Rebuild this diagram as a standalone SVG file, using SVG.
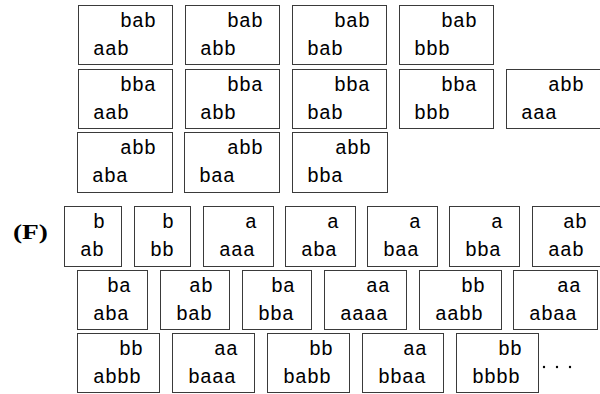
<svg xmlns="http://www.w3.org/2000/svg" width="600" height="394" viewBox="0 0 600 394">
<style>
rect{fill:#fff;stroke:#3a3a3a;stroke-width:1}
text{font-family:"Liberation Mono","DejaVu Sans Mono",monospace;font-size:20px;fill:#000}
.t{text-anchor:end}
.lbl{font-family:"Liberation Serif","DejaVu Serif",serif;font-weight:bold;font-size:20px}
</style>
<rect x="0" y="0" width="600" height="394" style="fill:#fff;stroke:none"/>
<g id="a1"><rect x="78.5" y="5.5" width="94" height="59"/><text class="t" x="156" y="27">bab</text><text x="93" y="55">aab</text></g>
<g id="a2"><rect x="185.5" y="5.5" width="94" height="59"/><text class="t" x="263" y="27">bab</text><text x="200" y="55">abb</text></g>
<g id="a3"><rect x="292.5" y="5.5" width="94" height="59"/><text class="t" x="370" y="27">bab</text><text x="307" y="55">bab</text></g>
<g id="a4"><rect x="399.5" y="5.5" width="94" height="59"/><text class="t" x="477" y="27">bab</text><text x="414" y="55">bbb</text></g>
<g id="b1"><rect x="78.5" y="69.5" width="94" height="59"/><text class="t" x="156" y="91">bba</text><text x="93" y="119">aab</text></g>
<g id="b2"><rect x="185.5" y="69.5" width="94" height="59"/><text class="t" x="263" y="91">bba</text><text x="200" y="119">abb</text></g>
<g id="b3"><rect x="292.5" y="69.5" width="94" height="59"/><text class="t" x="370" y="91">bba</text><text x="307" y="119">bab</text></g>
<g id="b4"><rect x="399.5" y="69.5" width="94" height="59"/><text class="t" x="477" y="91">bba</text><text x="414" y="119">bbb</text></g>
<g id="b5"><rect x="506.5" y="69.5" width="94" height="59"/><text class="t" x="584" y="91">abb</text><text x="521" y="119">aaa</text></g>
<g id="c1"><rect x="77.5" y="132.5" width="95" height="60"/><text class="t" x="156" y="154">abb</text><text x="92" y="182">aba</text></g>
<g id="c2"><rect x="184.5" y="132.5" width="95" height="60"/><text class="t" x="263" y="154">abb</text><text x="199" y="182">baa</text></g>
<g id="c3"><rect x="292.5" y="132.5" width="95" height="60"/><text class="t" x="371" y="154">abb</text><text x="307" y="182">bba</text></g>
<g id="label"><text class="lbl" x="13" y="239" textLength="35" lengthAdjust="spacingAndGlyphs">(F)</text></g>
<g id="f1"><rect x="64.5" y="206.5" width="57" height="60"/><text class="t" x="105" y="228">b</text><text x="80" y="256">ab</text></g>
<g id="f2"><rect x="134.5" y="206.5" width="56" height="60"/><text class="t" x="174" y="228">b</text><text x="150" y="256">bb</text></g>
<g id="f3"><rect x="203.5" y="206.5" width="70" height="60"/><text class="t" x="257" y="228">a</text><text x="219" y="256">aaa</text></g>
<g id="f4"><rect x="285.5" y="206.5" width="70" height="60"/><text class="t" x="339" y="228">a</text><text x="301" y="256">aba</text></g>
<g id="f5"><rect x="367.5" y="206.5" width="70" height="60"/><text class="t" x="421" y="228">a</text><text x="383" y="256">baa</text></g>
<g id="f6"><rect x="449.5" y="206.5" width="70" height="60"/><text class="t" x="503" y="228">a</text><text x="465" y="256">bba</text></g>
<g id="f7"><rect x="532.5" y="206.5" width="71" height="60"/><text class="t" x="587" y="228">ab</text><text x="548" y="256">aab</text></g>
<g id="g1"><rect x="77.5" y="270.5" width="70" height="59"/><text class="t" x="131" y="292">ba</text><text x="93" y="320">aba</text></g>
<g id="g2"><rect x="160.5" y="270.5" width="69" height="59"/><text class="t" x="213" y="292">ab</text><text x="176" y="320">bab</text></g>
<g id="g3"><rect x="242.5" y="270.5" width="69" height="59"/><text class="t" x="295" y="292">ba</text><text x="258" y="320">bba</text></g>
<g id="g4"><rect x="324.5" y="270.5" width="82" height="59"/><text class="t" x="390" y="292">aa</text><text x="340" y="320">aaaa</text></g>
<g id="g5"><rect x="419.5" y="270.5" width="82" height="59"/><text class="t" x="485" y="292">bb</text><text x="435" y="320">aabb</text></g>
<g id="g6"><rect x="513.5" y="270.5" width="84" height="59"/><text class="t" x="581" y="292">aa</text><text x="529" y="320">abaa</text></g>
<g id="h1"><rect x="77.5" y="333.5" width="82" height="59"/><text class="t" x="143" y="355">bb</text><text x="93" y="383">abbb</text></g>
<g id="h2"><rect x="172.5" y="333.5" width="82" height="59"/><text class="t" x="238" y="355">aa</text><text x="188" y="383">baaa</text></g>
<g id="h3"><rect x="267.5" y="333.5" width="82" height="59"/><text class="t" x="333" y="355">bb</text><text x="283" y="383">babb</text></g>
<g id="h4"><rect x="362.5" y="333.5" width="81" height="59"/><text class="t" x="427" y="355">aa</text><text x="378" y="383">bbaa</text></g>
<g id="h5"><rect x="456.5" y="333.5" width="82" height="59"/><text class="t" x="522" y="355">bb</text><text x="472" y="383">bbbb</text></g>
<g id="dots" fill="#000"><circle cx="544" cy="367" r="1.2"/><circle cx="557" cy="367" r="1.2"/><circle cx="570" cy="367" r="1.2"/></g>
<g id="connectors"/>
</svg>
